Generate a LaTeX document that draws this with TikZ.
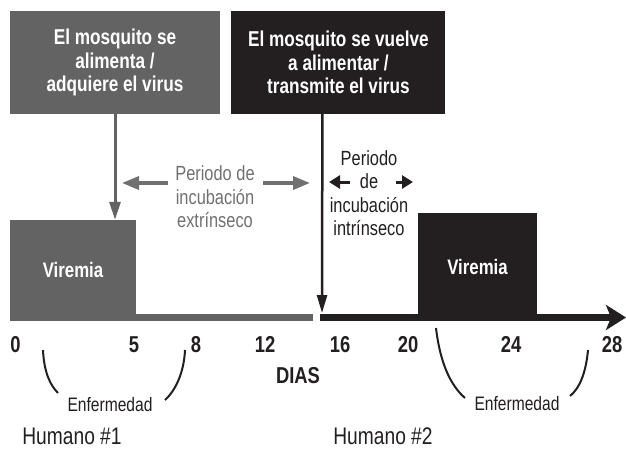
\documentclass[tikz,border=0pt]{standalone}
\usepackage{fontspec}
\setmainfont{Liberation Sans}[FakeStretch=0.8]
\usetikzlibrary{positioning, arrows.meta}
\definecolor{mgray}{RGB}{99,99,99}
\definecolor{lgray}{RGB}{112,112,112}
\definecolor{mblack}{RGB}{35,31,32}
\tikzset{
	feedbox/.style={minimum height=103pt, inner sep=0pt, align=center, text=white, font=\bfseries\fontsize{21.5}{23.5}\selectfont}, % the two mosquito boxes
	virbox/.style={inner sep=0pt, text=white, font=\bfseries\fontsize{21}{23}\selectfont}, % the viremia boxes
	incub/.style={align=center, inner sep=0pt, font=\fontsize{20.5}{23.5}\selectfont}, % incubation period texts
	daynum/.style={anchor=base, inner sep=0pt, text=mblack, font=\bfseries\fontsize{23}{25}\selectfont}, % numbers under the time line
	sick/.style={anchor=base, inner sep=0pt, text=mblack, font=\fontsize{19.5}{22}\selectfont}, % illness labels
	human/.style={anchor=base, inner sep=0pt, text=mblack, font=\fontsize{24}{26}\selectfont}, % human labels
	bigarrow/.style={line width=3pt, -{Triangle[length=18pt, width=11pt]}}, % arrows from the boxes
	incarrow/.style={line width=3.5pt, -{Triangle[length=17pt, width=13pt]}}, % extrinsic period arrows
	smallarrow/.style={line width=3pt, -{Triangle[length=11pt, width=13pt]}}, % intrinsic period arrows
}
\begin{document}
\begin{tikzpicture}[x=1pt, y=-1pt]
	\useasboundingbox (0,0) rectangle (626,448);
	% Mosquito boxes
	\node[feedbox, fill=mgray, minimum width=210pt] (feed1) at (115,62.5) {El mosquito se\\alimenta /\\adquiere el virus};
	\node[feedbox, fill=mblack, minimum width=214pt, right=11pt of feed1] (feed2) {El mosquito se vuelve\\a alimentar /\\transmite el virus};
	
	% Time line
	\coordinate (t0) at (10,317.5);
	\coordinate (t1) at (313,317.5);
	\coordinate (t2) at (320,317.5);
	\coordinate (tend) at (626,317.5);
	\draw[line width=7pt, mgray] (t0) -- (t1);
	\draw[line width=7pt, mblack, -{Stealth[length=20pt, width=25pt, inset=5pt]}] (t2) -- (tend);
	
	% Viremia boxes
	\node[virbox, fill=mgray, minimum width=126pt, minimum height=100pt] (vir1) at (73,270) {Viremia};
	\node[virbox, fill=mblack, minimum width=119pt, minimum height=108pt] (vir2) at (477.5,267) {Viremia};
	
	% Bites
	\coordinate (bite2) at (322,313);
	\draw[bigarrow, mgray] (feed1.south) -- (feed1.south |- vir1.north);
	\draw[line width=2.5pt, mblack, -{Triangle[length=18pt, width=10pt]}] ([xshift=-16pt]feed2.south) -- (bite2);
	
	% Incubation periods
	\node[incub, text=lgray] (ext) at (215,197) {Periodo de\\incubación\\extrínseco};
	\node[incub, text=mblack] (int) at (369,193) {Periodo\\de\\incubación\\intrínseco};
	\coordinate (e1) at (168,183);
	\coordinate (e2) at (122,183);
	\coordinate (e3) at (263,183);
	\coordinate (e4) at (310,183);
	\coordinate (i1) at (350,182);
	\coordinate (i2) at (329,182);
	\coordinate (i3) at (396,182);
	\coordinate (i4) at (413,182);
	\draw[incarrow, lgray] (e1) -- (e2);
	\draw[incarrow, lgray] (e3) -- (e4);
	\draw[smallarrow, mblack] (i1) -- (i2);
	\draw[smallarrow, mblack] (i3) -- (i4);
	
	% Days
	\foreach \d/\x in {0/15.5, 5/134, 8/196, 12/265, 16/340, 20/408, 24/511, 28/612}
		\node[daynum] (d\d) at (\x,352) {\d};
	\node[daynum] (dias) at (298,383) {DIAS};
	
	% Illness
	\draw[line width=2pt, mblack] (43,350) .. controls (44,372) and (50,385) .. (58,393);
	\draw[line width=2pt, mblack] (185,350) .. controls (184,372) and (176,390) .. (165,400);
	\draw[line width=2pt, mblack] (436,328) .. controls (440,362) and (450,385) .. (465,398);
	\draw[line width=2pt, mblack] (588,350) .. controls (586,372) and (580,388) .. (570,396);
	\node[sick] (sick1) at (110,411) {Enfermedad};
	\node[sick] (sick2) at (517,410) {Enfermedad};
	\node[human] (hum1) at (72,444) {Humano \#1};
	\node[human] (hum2) at (383,444) {Humano \#2};
\end{tikzpicture}
\end{document}
